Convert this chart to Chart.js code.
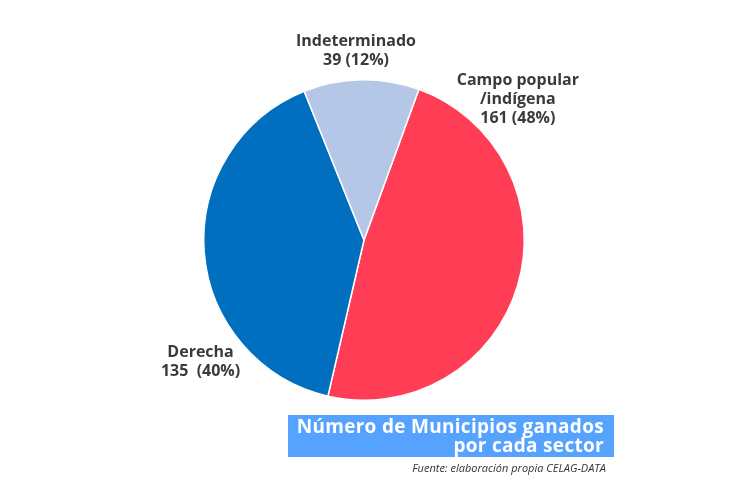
<!DOCTYPE html>
<html>
<head>
<meta charset="utf-8">
<script src="https://cdn.jsdelivr.net/npm/chart.js@4"></script>
<style>
  body { margin: 0; background: #fff; }
  #wrap { position: relative; width: 750px; height: 491px; }
  #title {
    position: absolute; left: 288px; top: 415px; width: 316px; height: 40px;
    padding-right: 10px; background: #55a3ff; color: #fff; text-align: right; white-space: nowrap;
    font: bold 19px "Open Sans", sans-serif; letter-spacing: 0.3px; line-height: 19px; padding-top: 2px;
  }
  #source {
    position: absolute; right: 144px; top: 460px;
    font: italic 11px "Open Sans", sans-serif; color: #333;
  }
</style>
</head>
<body>
<div id="wrap">
  <canvas id="pie" width="750" height="491"></canvas>
  <div id="title">Número de Municipios ganados<br>por cada sector</div>
  <div id="source">Fuente: elaboración propia CELAG-DATA</div>
</div>
<script>
// data
const sectors = ['Campo popular\n/indígena', 'Derecha', 'Indeterminado'];
const municipios = [161, 135, 39];
const shares = ['48%', '40%', '12%'];
const colors = ['#ff3d54', '#006fc0', '#b4c7e7'];

// label offsets from the pie centre, in units of the radius
const labelSpots = [[0.96, -0.88], [-1.02, 0.76], [-0.05, -1.18]];

const outsideLabels = {
  id: 'outsideLabels',
  afterDraw(chart) {
    const ctx = chart.ctx;
    const arc = chart.getDatasetMeta(0).data[0];
    const r = arc.outerRadius;
    ctx.save();
    ctx.fillStyle = '#3a3a3a';
    ctx.font = 'bold 16px "Open Sans", sans-serif';
    ctx.textAlign = 'center';
    ctx.textBaseline = 'middle';
    sectors.forEach((s, i) => {
      let lines = s.split('\n');
      let sep = i === 1 ? '  ' : ' ';
      lines.push(municipios[i] + sep + '(' + shares[i] + ')');
      let x = arc.x + labelSpots[i][0] * r;
      let y = arc.y + labelSpots[i][1] * r - (lines.length - 1) * 9.5;
      lines.forEach((l, j) => ctx.fillText(l, x, y + j * 19));
    });
    ctx.restore();
  }
};

const ctx = document.getElementById('pie').getContext('2d');
new Chart(ctx, {
  type: 'pie',
  data: {
    labels: sectors,
    datasets: [{
      data: municipios,
      backgroundColor: colors,
      borderColor: '#ffffff',
      borderWidth: 1.5
    }]
  },
  options: {
    responsive: false,
    animation: false,
    rotation: 20,
    layout: { padding: { left: 203, right: 225, top: 79, bottom: 90 } },
    plugins: {
      legend: { display: false },
      tooltip: { enabled: false }
    }
  },
  plugins: [outsideLabels]
});
</script>
</body>
</html>
